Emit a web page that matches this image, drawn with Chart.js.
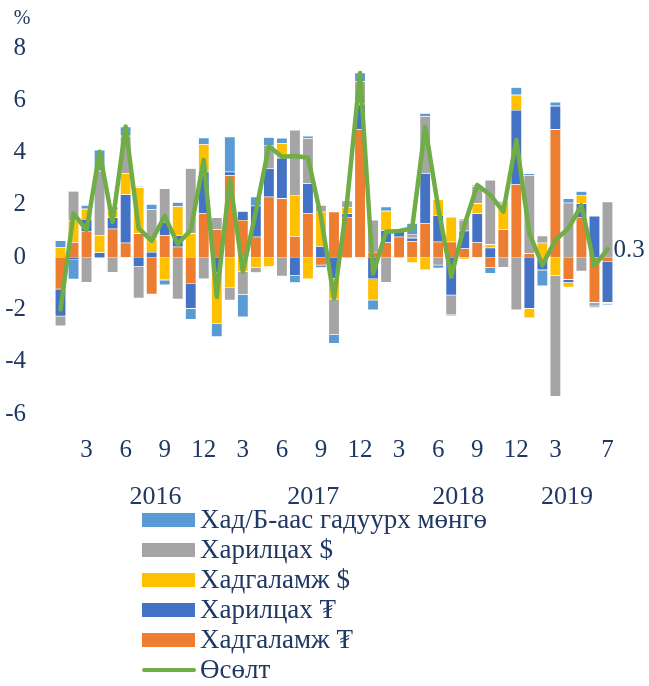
<!DOCTYPE html>
<html>
<head>
<meta charset="utf-8">
<script src="https://cdn.jsdelivr.net/npm/chart.js@4.4.0/dist/chart.umd.min.js"></script>
<style>
  html, body { margin: 0; padding: 0; background: #fff; }
</style>
</head>
<body>
<canvas id="myChart" width="649" height="686"></canvas>
<script>
// Months Jan 2016 - Jul 2019
const months = [
  '2016-01','2016-02','2016-03','2016-04','2016-05','2016-06','2016-07','2016-08','2016-09','2016-10','2016-11','2016-12',
  '2017-01','2017-02','2017-03','2017-04','2017-05','2017-06','2017-07','2017-08','2017-09','2017-10','2017-11','2017-12',
  '2018-01','2018-02','2018-03','2018-04','2018-05','2018-06','2018-07','2018-08','2018-09','2018-10','2018-11','2018-12',
  '2019-01','2019-02','2019-03','2019-04','2019-05','2019-06','2019-07'
];
const monthTicks = [
  '','','3','','','6','','','9','','','12',
  '','','3','','','6','','','9','','','12',
  '','','3','','','6','','','9','','','12',
  '','','3','','','','7'
];
const yearLabels = ['2016', '2017', '2018', '2019'];

// contributions, percentage points
const savingsMNT = [-1.23,0.57,1.0,-0.06,1.09,0.55,0.91,-1.42,0.84,0.4,-1.03,1.67,
  1.06,3.14,1.42,0.78,2.31,2.25,0.8,1.67,-0.31,1.74,1.54,4.9,
  0.2,0.56,0.78,0.61,1.29,0.59,0.59,0.33,0.56,-0.4,1.07,2.78,
  0.14,-0.08,4.89,-0.86,1.54,-1.74,-0.19];
const currentMNT = [-1.03,-0.11,0.46,0.18,0.43,1.85,-0.37,0.2,0.51,0.44,-0.94,1.6,
  -0.6,0.13,0.34,1.19,1.09,1.55,-0.72,1.15,0.42,-0.82,0.13,0.93,
  -0.84,0.47,0.23,0.13,1.92,1.02,-1.46,0.68,1.11,0.36,0,2.85,
  -1.97,-0.42,0.9,-0.12,0.52,1.58,-1.55];
const savingsUSD = [0.37,0.85,0.39,0.65,0.29,0.81,1.76,0.52,-0.88,1.11,0.91,1.05,
  -1.94,-1.18,-0.56,-0.4,-0.37,0.56,1.58,-0.84,1.32,-0.79,0.23,0.05,
  -0.81,0.74,-0.04,-0.22,-0.5,0.6,0.95,-0.08,0.39,0.13,1.01,0.58,
  -0.36,0.55,-0.72,-0.18,0.32,0,-0.05];
const currentUSD = [-0.38,1.11,-0.97,2.47,-0.59,1.43,-1.21,1.12,1.28,-1.61,2.49,-0.84,
  0.46,-0.47,-0.87,-0.2,0.89,-0.73,2.49,1.73,0.25,-1.35,0.26,0.84,
  1.22,-0.97,0,0.15,2.17,-0.31,-0.76,0.41,0.66,2.46,-0.4,-2.03,
  3.0,0.27,-4.61,2.08,-0.54,-0.14,2.12];
const outsideBanks = [0.27,-0.74,0.14,0.8,0.12,0.35,0.05,0.19,-0.19,0.15,-0.42,0.25,
  -0.51,1.34,-0.86,0.34,0.3,0.2,-0.26,0.09,-0.1,-0.35,-0.05,0.34,
  -0.38,0.16,0,0.41,0.13,-0.12,-0.04,0.04,0.04,-0.23,0.06,0.29,
  0.06,-0.61,0.15,0.17,0.14,-0.06,-0.04];
const growth = [-2.0,1.67,1.03,4.03,1.35,5.0,1.1,0.62,1.57,0.5,1.03,3.72,
  -1.52,3.0,-0.56,1.75,4.24,3.84,3.87,3.8,1.55,-1.58,2.1,7.04,
  -0.63,0.97,1.0,1.1,4.99,1.9,-0.75,1.2,2.76,2.38,1.74,4.48,
  0.91,-0.31,0.65,1.1,1.99,-0.33,0.3];

const navy = '#1f3864';
const serif = '"Liberation Serif", "Times New Roman", serif';

// year captions under the month ticks (fractional category index)
const yearPlugin = {
  id: 'yearLabels',
  afterDraw(chart) {
    const { ctx, scales: { x } } = chart;
    const spots = [7.3, 19.4, 30.55, 38.9];
    ctx.save();
    ctx.font = '26px ' + serif;
    ctx.fillStyle = navy;
    ctx.textAlign = 'center';
    ctx.textBaseline = 'middle';
    yearLabels.forEach((yr, i) => ctx.fillText(yr, x.getPixelForValue(spots[i]), 497));
    // unit on top of the y axis
    ctx.font = '20px ' + serif;
    ctx.fillText('%', 22, 19);
    // value label at the last point of the line
    const meta = chart.getDatasetMeta(0);
    const last = meta.data[meta.data.length - 1];
    ctx.font = '25px ' + serif;
    ctx.textAlign = 'left';
    ctx.fillText(String(growth[growth.length - 1]), last.x + 6, last.y + 1);
    ctx.restore();
  }
};

// vertical legend, one entry per row
const legendPlugin = {
  id: 'columnLegend',
  afterDraw(chart) {
    const ctx = chart.ctx;
    const ds = chart.data.datasets;
    const items = [ds[5], ds[4], ds[3], ds[2], ds[1], ds[0]];
    ctx.save();
    ctx.font = '27px ' + serif;
    ctx.textBaseline = 'middle';
    items.forEach((d, i) => {
      const y = 520 + i * 30;
      if (d.type === 'line') {
        ctx.strokeStyle = d.borderColor;
        ctx.lineWidth = 4;
        ctx.lineCap = 'round';
        ctx.beginPath();
        ctx.moveTo(144, y);
        ctx.lineTo(194, y);
        ctx.stroke();
      } else {
        ctx.fillStyle = d.backgroundColor;
        ctx.fillRect(142, y - 7, 53, 14);
      }
      ctx.fillStyle = navy;
      ctx.fillText(d.label, 200, y + 1);
    });
    ctx.restore();
  }
};

function barSet(label, data, color) {
  return {
    type: 'bar',
    label: label,
    data: data,
    backgroundColor: color,
    borderColor: 'rgba(255,255,255,0.7)',
    borderWidth: 0.6,
    stack: 'parts',
    order: 1,
    categoryPercentage: 0.85,
    barPercentage: 1
  };
}

const ctx = document.getElementById('myChart');

new Chart(ctx, {
  data: {
    labels: months,
    datasets: [
      {
        type: 'line',
        label: 'Өсөлт',
        data: growth,
        borderColor: '#70ad47',
        borderWidth: 4.5,
        pointRadius: 0,
        tension: 0,
        borderJoinStyle: 'round',
        borderCapStyle: 'round',
        stack: 'total',
        order: 0
      },
      barSet('Хадгаламж ₮', savingsMNT, '#ed7d31'),
      barSet('Харилцах ₮', currentMNT, '#4472c4'),
      barSet('Хадгаламж $', savingsUSD, '#ffc000'),
      barSet('Харилцах $', currentUSD, '#a5a5a5'),
      barSet('Хад/Б-аас гадуурх мөнгө', outsideBanks, '#5b9bd5')
    ]
  },
  options: {
    responsive: false,
    animation: false,
    layout: { padding: { top: 48, right: 35, left: 0, bottom: 0 } },
    plugins: {
      legend: { display: false },
      tooltip: { enabled: false }
    },
    scales: {
      x: {
        stacked: true,
        grid: { display: false, drawTicks: false },
        border: { display: false },
        afterFit: scale => { scale.height = 272; },
        ticks: {
          autoSkip: false,
          maxRotation: 0,
          padding: 21,
          color: navy,
          font: { family: serif, size: 25 },
          callback: (v, i) => monthTicks[i]
        }
      },
      y: {
        stacked: true,
        min: -6,
        max: 8,
        grid: { display: false, drawTicks: false },
        border: { display: false },
        afterFit: scale => { scale.width = 54; },
        ticks: {
          stepSize: 2,
          padding: 28,
          color: navy,
          font: { family: serif, size: 25 }
        }
      }
    }
  },
  plugins: [yearPlugin, legendPlugin]
});
</script>
</body>
</html>
